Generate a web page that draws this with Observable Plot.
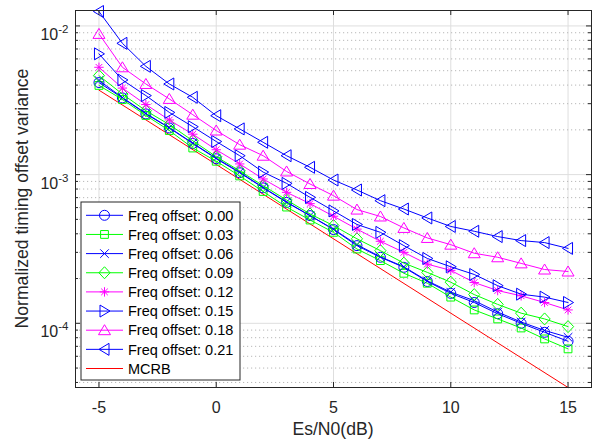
<!DOCTYPE html>
<html><head><meta charset="utf-8">
<script src="https://cdn.jsdelivr.net/npm/d3@7"></script>
<script src="https://cdn.jsdelivr.net/npm/@observablehq/plot@0.6"></script>
<style>body{margin:0;background:#fff} svg{display:block}</style>
</head><body><div id="chart"></div>
<script>
// ---- data ----
const snr = [-5,-4,-3,-2,-1,0,1,2,3,4,5,6,7,8,9,10,11,12,13,14,15];
const fo000 = [4.16e-3,3.28e-3,2.56e-3,2.06e-3,1.62e-3,1.28e-3,1.03e-3,8.15e-4,6.5e-4,5.3e-4,4.27e-4,3.33e-4,2.78e-4,2.38e-4,1.91e-4,1.59e-4,1.38e-4,1.16e-4,1.0e-4,8.7e-5,7.57e-5];
const fo003 = [3.98e-3,3.2e-3,2.5e-3,1.98e-3,1.51e-3,1.23e-3,9.8e-4,7.7e-4,6.05e-4,4.95e-4,4.09e-4,3.16e-4,2.64e-4,2.17e-4,1.86e-4,1.5e-4,1.23e-4,1.07e-4,9.3e-5,7.85e-5,6.73e-5];
const fo006 = [4.3e-3,3.3e-3,2.58e-3,2.07e-3,1.63e-3,1.29e-3,1.04e-3,8.2e-4,6.55e-4,5.3e-4,4.3e-4,3.38e-4,2.8e-4,2.4e-4,1.93e-4,1.62e-4,1.42e-4,1.19e-4,1.02e-4,8.95e-5,8.05e-5];
const fo009 = [4.63e-3,3.48e-3,2.69e-3,2.17e-3,1.69e-3,1.32e-3,1.06e-3,8.43e-4,6.75e-4,5.44e-4,4.54e-4,3.7e-4,3.08e-4,2.54e-4,2.2e-4,1.89e-4,1.56e-4,1.34e-4,1.17e-4,1.07e-4,9.5e-5];
const fo012 = [5.27e-3,3.82e-3,2.96e-3,2.33e-3,1.87e-3,1.47e-3,1.18e-3,9.35e-4,7.6e-4,6.38e-4,5.25e-4,4.3e-4,3.56e-4,3.0e-4,2.5e-4,2.27e-4,1.88e-4,1.66e-4,1.53e-4,1.38e-4,1.23e-4];
const fo015 = [6.49e-3,4.33e-3,3.4e-3,2.62e-3,2.1e-3,1.67e-3,1.34e-3,1.04e-3,8.73e-4,7.03e-4,5.7e-4,4.62e-4,4.09e-4,3.33e-4,2.73e-4,2.4e-4,2.13e-4,1.79e-4,1.57e-4,1.5e-4,1.38e-4];
const fo018 = [8.84e-3,5.27e-3,4.07e-3,3.23e-3,2.53e-3,1.98e-3,1.59e-3,1.34e-3,1.05e-3,8.65e-4,7.22e-4,5.82e-4,5.23e-4,4.38e-4,3.75e-4,3.38e-4,2.96e-4,2.78e-4,2.53e-4,2.3e-4,2.23e-4];
const fo021 = [1.25e-2,7.64e-3,5.35e-3,4.07e-3,3.31e-3,2.49e-3,2.03e-3,1.65e-3,1.34e-3,1.12e-3,9.2e-4,7.88e-4,6.68e-4,5.87e-4,5.11e-4,4.48e-4,4.16e-4,3.83e-4,3.6e-4,3.49e-4,3.19e-4];
const mcrbSnr = [-5, 15];
const mcrbVal = [3.7e-3, 3.7e-5];

const seriesNames = ["Freq offset: 0.00","Freq offset: 0.03","Freq offset: 0.06","Freq offset: 0.09","Freq offset: 0.12","Freq offset: 0.15","Freq offset: 0.18","Freq offset: 0.21"];
const seriesValues = [fo000, fo003, fo006, fo009, fo012, fo015, fo018, fo021];
const seriesColors = ["#0000ff","#00ff00","#0000ff","#00ff00","#ff00ff","#0000ff","#ff00ff","#0000ff"];
const seriesMarkers = ["circle","square","times","diamond","asterisk","triRight","triUp","triLeft"];
const mcrbName = "MCRB";
const mcrbColor = "#ff0000";

const xTicks = [-5, 0, 5, 10, 15];
const xTickLabels = ["-5", "0", "5", "10", "15"];
const yMajor = [1e-4, 1e-3, 1e-2];
const yMajorExp = ["-4", "-3", "-2"];
const yMinor = [4e-5,5e-5,6e-5,7e-5,8e-5,9e-5,2e-4,3e-4,4e-4,5e-4,6e-4,7e-4,8e-4,9e-4,2e-3,3e-3,4e-3,5e-3,6e-3,7e-3,8e-3,9e-3];
const xLabel = "Es/N0(dB)";
const yLabel = "Normalized timing offset variance";

// ---- marker shapes (MATLAB-like) ----
const shapes = {
  circle: ctx => { ctx.moveTo(5, 0); ctx.arc(0, 0, 5, 0, 2 * Math.PI); ctx.closePath(); },
  square: ctx => { ctx.moveTo(-3.9,-3.9); ctx.lineTo(3.9,-3.9); ctx.lineTo(3.9,3.9); ctx.lineTo(-3.9,3.9); ctx.closePath(); },
  times: ctx => { ctx.moveTo(-4.3,-4.3); ctx.lineTo(4.3,4.3); ctx.moveTo(-4.3,4.3); ctx.lineTo(4.3,-4.3); },
  diamond: ctx => { ctx.moveTo(0,-6); ctx.lineTo(5.6,0); ctx.lineTo(0,6); ctx.lineTo(-5.6,0); ctx.closePath(); },
  asterisk: ctx => { ctx.moveTo(-4.7,0); ctx.lineTo(4.7,0); ctx.moveTo(0,-4.7); ctx.lineTo(0,4.7);
                     ctx.moveTo(-3.3,-3.3); ctx.lineTo(3.3,3.3); ctx.moveTo(-3.3,3.3); ctx.lineTo(3.3,-3.3); },
  triUp: ctx => { ctx.moveTo(0,-5.5); ctx.lineTo(6,4.5); ctx.lineTo(-6,4.5); ctx.closePath(); },
  triRight: ctx => { ctx.moveTo(5.5,0); ctx.lineTo(-4.5,-6); ctx.lineTo(-4.5,6); ctx.closePath(); },
  triLeft: ctx => { ctx.moveTo(-5.5,0); ctx.lineTo(4.5,-6); ctx.lineTo(4.5,6); ctx.closePath(); }
};
const symbolOf = name => ({ draw(ctx) { shapes[name](ctx); } });

// ---- tables ----
const mcrbTable = mcrbSnr.map((s, i) => ({snr: s, v: mcrbVal[i]}));
const tables = seriesValues.map(vals => snr.map((s, i) => ({snr: s, v: vals[i]})));

const W = 597, H = 439, mL = 75, mR = 6, mT = 10, mB = 52;
const plotW = W - mL - mR, plotH = H - mT - mB;
const axisColor = "#262626";

const marks = [
  Plot.ruleX(xTicks, {x: d => d, stroke: "#dedede", strokeWidth: 1}),
  Plot.ruleY(yMinor, {y: d => d, stroke: "#b8b8b8", strokeWidth: 1, strokeDasharray: "1.2,2.8"}),
  Plot.ruleY(yMajor, {y: d => d, stroke: "#dedede", strokeWidth: 1}),
  Plot.line(mcrbTable, {x: "snr", y: "v", stroke: mcrbColor, strokeWidth: 1})
];
tables.forEach((t, i) => {
  marks.push(Plot.line(t, {x: "snr", y: "v", stroke: seriesColors[i], strokeWidth: 1}));
  marks.push(Plot.dot(t, {x: "snr", y: "v", stroke: seriesColors[i], fill: "none", strokeWidth: 1, r: 5, symbol: symbolOf(seriesMarkers[i])}));
});
marks.push(
  Plot.frame({stroke: axisColor, strokeWidth: 1}),
  Plot.tickX(xTicks, {x: d => d, insetTop: plotH - 5, stroke: axisColor}),
  Plot.tickX(xTicks, {x: d => d, insetBottom: plotH - 5, stroke: axisColor}),
  Plot.tickY(yMajor, {y: d => d, insetLeft: plotW - 5, stroke: axisColor}),
  Plot.tickY(yMajor, {y: d => d, insetRight: plotW - 5, stroke: axisColor}),
  Plot.tickY(yMinor, {y: d => d, insetLeft: plotW - 3, stroke: axisColor}),
  Plot.tickY(yMinor, {y: d => d, insetRight: plotW - 3, stroke: axisColor}),
  Plot.axisX(xTicks, {anchor: "bottom", tickSize: 0, tickPadding: 14, tickFormat: d => xTickLabels[xTicks.indexOf(d)], label: null, fontSize: 16, fill: axisColor}),
  Plot.axisY(yMajor, {anchor: "left", tickSize: 0, tickPadding: 7, tickFormat: d => "10^" + yMajorExp[yMajor.indexOf(d)], label: null, fontSize: 16, fill: axisColor})
);

const chart = Plot.plot({
  width: W, height: H,
  marginLeft: mL, marginRight: mR, marginTop: mT, marginBottom: mB,
  style: {fontFamily: "'Liberation Sans', Arial, sans-serif", fontSize: "16px", background: "#fff", color: axisColor},
  x: {domain: [-6, 16]},
  y: {type: "log", domain: [3.7e-5, 1.27e-2]},
  marks
});
document.getElementById("chart").append(chart);

const svg = d3.select(chart);
// superscript exponents on y tick labels
svg.selectAll('g[aria-label="y-axis tick label"] text').each(function() {
  const t = d3.select(this);
  const parts = t.text().split("^");
  t.text("");
  t.attr("dy", "0.55em");
  t.append("tspan").text(parts[0]);
  t.append("tspan").attr("dy", -7).attr("font-size", 11.5).text(parts[1]);
});

// axis titles
svg.append("text").attr("x", mL + plotW / 2).attr("y", 435).attr("text-anchor", "middle")
  .attr("font-size", 17.6).attr("fill", axisColor).text(xLabel);
svg.append("text").attr("transform", `translate(28,${mT + plotH / 2}) rotate(-90)`).attr("text-anchor", "middle")
  .attr("font-size", 17.6).attr("fill", axisColor).text(yLabel);

// legend (inside the axes, lower left)
const lg = svg.append("g").attr("aria-label", "legend").attr("text-anchor", "start");
lg.append("rect").attr("x", 81).attr("y", 202).attr("width", 159).attr("height", 178)
  .attr("fill", "#fff").attr("stroke", axisColor).attr("stroke-width", 1);
const entries = seriesNames.map((n, i) => ({name: n, color: seriesColors[i], marker: seriesMarkers[i]}))
  .concat([{name: mcrbName, color: mcrbColor, marker: null}]);
entries.forEach((e, i) => {
  const y = 215.3 + i * 19.15;
  lg.append("line").attr("x1", 86).attr("x2", 123).attr("y1", y).attr("y2", y)
    .attr("stroke", e.color).attr("stroke-width", 1);
  if (e.marker) {
    const p = d3.path(); shapes[e.marker](p);
    lg.append("path").attr("d", p.toString()).attr("transform", `translate(104.5,${y})`)
      .attr("fill", "none").attr("stroke", e.color).attr("stroke-width", 1);
  }
  lg.append("text").attr("x", 128).attr("y", y).attr("dy", "0.36em").attr("font-size", 14.5)
    .attr("text-anchor", "start").attr("fill", "#000").text(e.name);
});
</script></body></html>
